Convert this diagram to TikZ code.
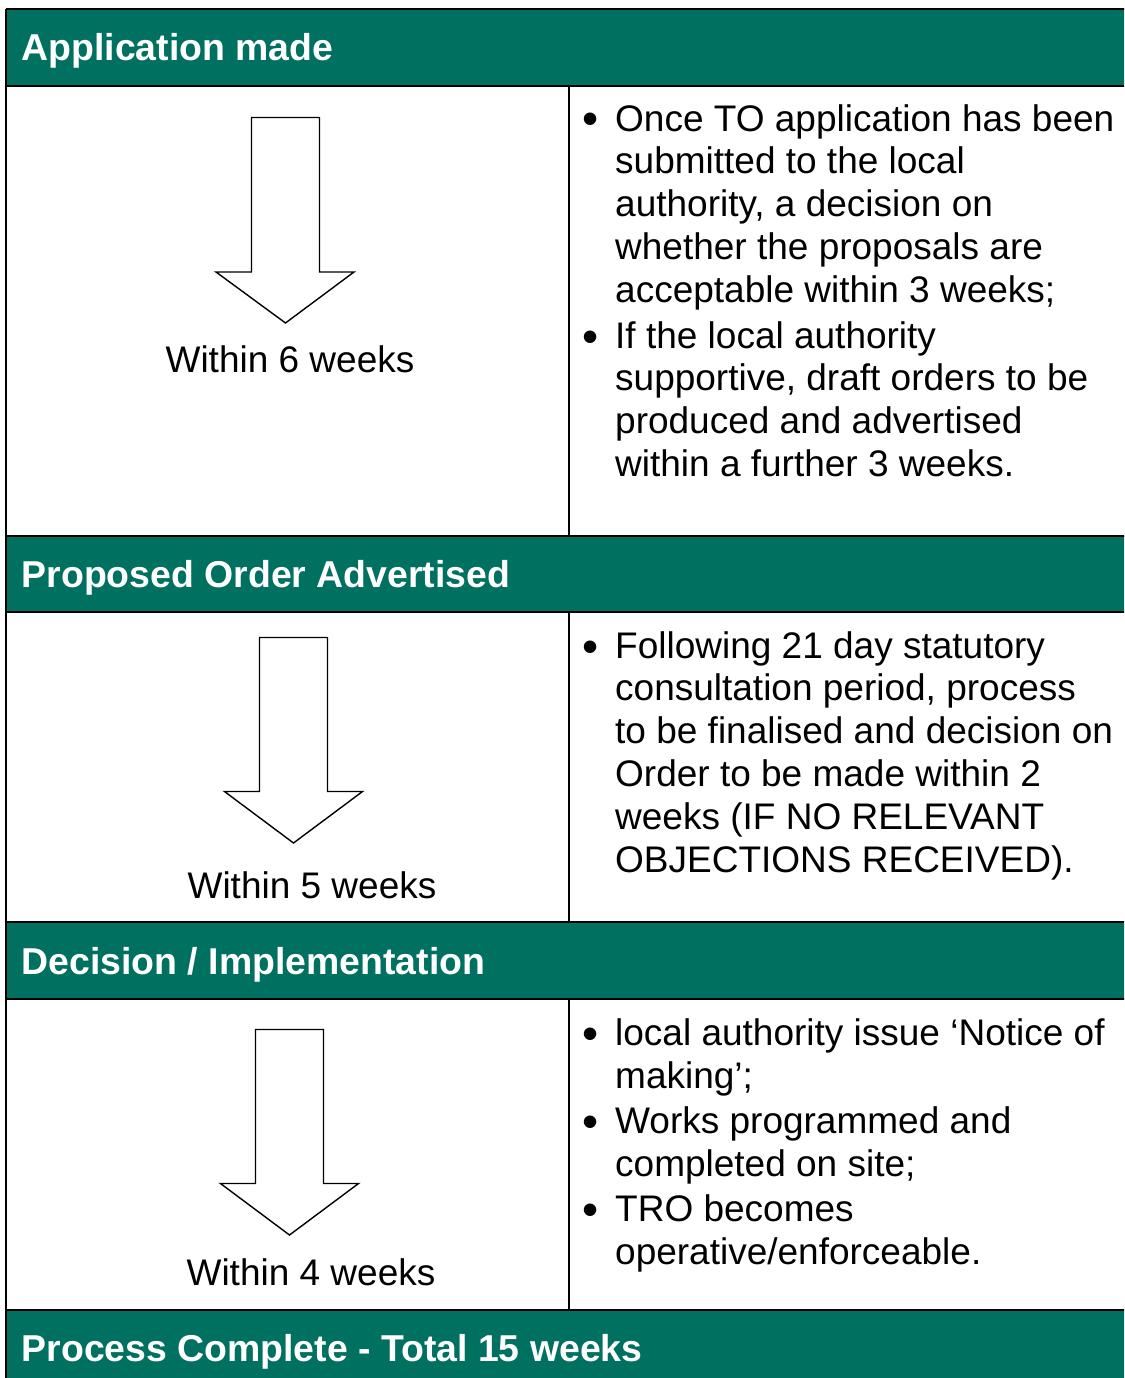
\documentclass[tikz,border=0pt]{standalone}
\usepackage{fontspec}
\setmainfont{Liberation Sans}
\definecolor{bandgreen}{RGB}{0,112,96}
\tikzset{
  rule/.style={line width=1.8pt, black},
  band/.style={fill=bandgreen},
  bandtext/.style={anchor=base west, inner sep=0pt, text=white,
    font=\bfseries\fontsize{37.4}{44}\selectfont},
  % multi-line notes are placed by the baseline of their last line
  bodytext/.style={anchor=base west, inner sep=0pt, align=left,
    font=\fontsize{37}{42.9}\selectfont},
  bulletmark/.style={anchor=base west, inner sep=0pt,
    font=\fontsize{46}{50}\selectfont},
  weeks/.style={anchor=base, inner sep=0pt,
    font=\fontsize{37}{42.9}\selectfont},
  downarrow/.style={draw=black, line width=1.4pt, fill=white, line join=miter}
}
% draws a block arrow: #1 shaft left, #2 shaft right, #3 top, #4 shoulder,
% #5 left wing, #6 right wing, #7 tip x, #8 tip y
\newcommand{\blockarrow}[8]{%
  \draw[downarrow] (#1,#3) -- (#2,#3) -- (#2,#4) -- (#6,#4) -- (#7,#8)
    -- (#5,#4) -- (#1,#4) -- cycle;}
\begin{document}
\begin{tikzpicture}[x=1pt, y=-1pt]
\useasboundingbox (0,0) rectangle (1124,1378);
\clip (0,0) rectangle (1124,1378);

% header bands
\fill[band] (6,9) rectangle (1130,86);
\fill[band] (6,536) rectangle (1130,612);
\fill[band] (6,922) rectangle (1130,999);
\fill[band] (6,1310) rectangle (1130,1390);

% table rules
\foreach \yy in {9,86,536,612,922,999,1310}
  \draw[rule] (6,\yy) -- (1130,\yy);
\draw[rule] (6,9) -- (6,1390);
\draw[rule] (569,86) -- (569,536);
\draw[rule] (569,612) -- (569,922);
\draw[rule] (569,999) -- (569,1310);

% header texts
\node[bandtext] (h1) at (21.5,60.5) {Application made};
\node[bandtext] (h2) at (21.5,587) {Proposed Order Advertised};
\node[bandtext] (h3) at (21.5,974) {Decision / Implementation};
\node[bandtext] (h4) at (21.5,1361) {Process Complete - Total 15 weeks};

% arrows with their durations
\blockarrow{251.5}{319.5}{117.5}{272}{216}{354}{285.5}{323}
\node[weeks] (w1) at (290,372) {Within 6 weeks};
\blockarrow{259.5}{327.5}{637.5}{791.5}{224.5}{362.5}{293.5}{843}
\node[weeks] (w2) at (312,898) {Within 5 weeks};
\blockarrow{255.5}{323.5}{1029.5}{1183.5}{220.5}{358.5}{289.5}{1235}
\node[weeks] (w3) at (311,1285) {Within 4 weeks};

% notes, first stage
\node[bulletmark] (b1) at (582,135) {•};
\node[bodytext] (t1) at (615,302.6) {Once TO application has been\\submitted to the local\\authority, a decision on\\whether the proposals are\\acceptable within 3 weeks;};
\node[bulletmark] (b2) at (582,352) {•};
\node[bodytext] (t2) at (615,476.7) {If the local authority\\supportive, draft orders to be\\produced and advertised\\within a further 3 weeks.};

% notes, second stage
\node[bulletmark] (b3) at (582,662) {•};
\node[bodytext] (t3) at (615,872.5) {Following 21 day statutory\\consultation period, process\\to be finalised and decision on\\Order to be made within 2\\weeks (IF NO RELEVANT\\OBJECTIONS RECEIVED).};

% notes, third stage
\node[bulletmark] (b4) at (582,1049) {•};
\node[bodytext] (t4) at (615,1088) {local authority issue ‘Notice of\\making’;};
\node[bulletmark] (b5) at (582,1137) {•};
\node[bodytext] (t5) at (615,1176) {Works programmed and\\completed on site;};
\node[bulletmark] (b6) at (582,1225) {•};
\node[bodytext] (t6) at (615,1264) {TRO becomes\\operative/enforceable.};
\end{tikzpicture}
\end{document}
